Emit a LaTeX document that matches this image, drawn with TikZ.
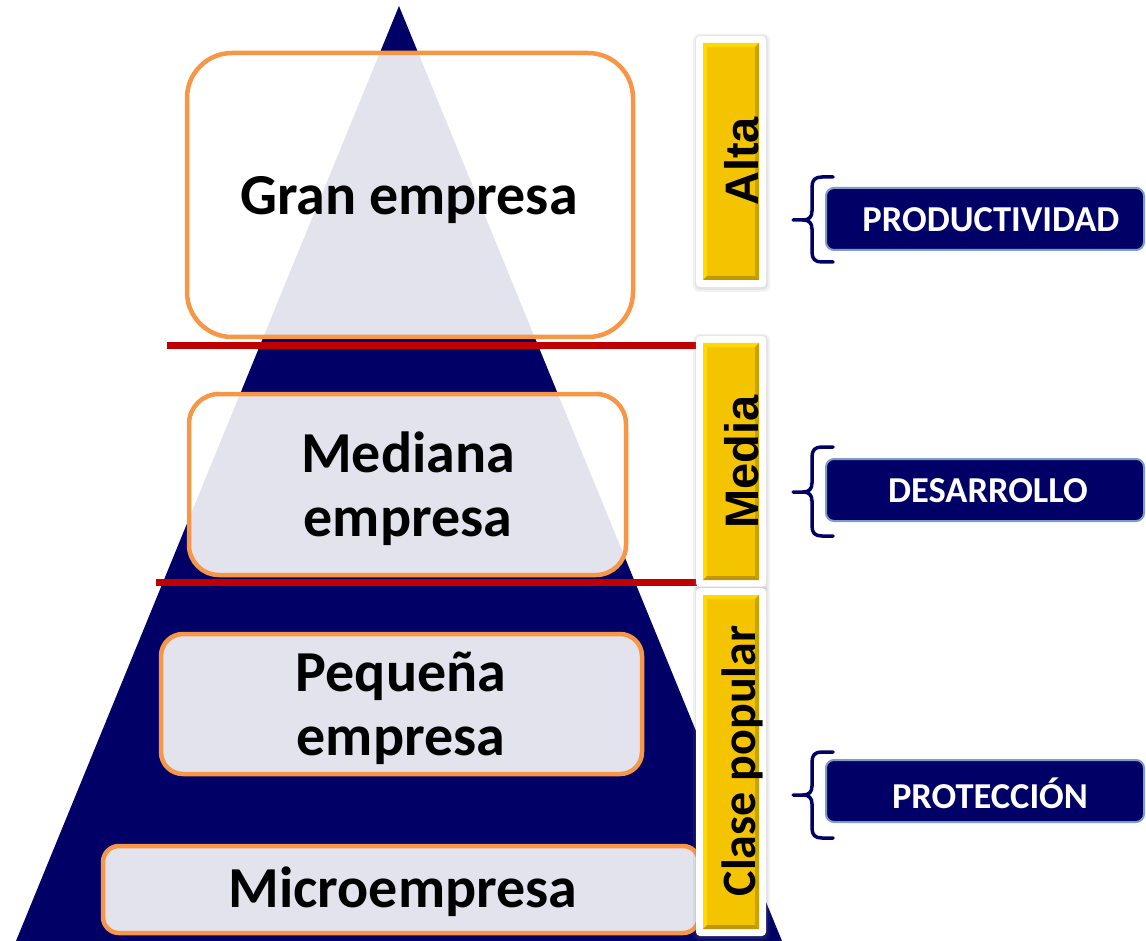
\documentclass[tikz,border=0pt]{standalone}
\usepackage{fontspec}
\setmainfont{Carlito}
\newfontfamily\arialf{Liberation Sans}
\definecolor{navy}{HTML}{000066}
\definecolor{orng}{HTML}{F79646}
\definecolor{redl}{HTML}{C00000}
\definecolor{ylw}{HTML}{F5C400}
\definecolor{ylwlt}{HTML}{FFD900}
\definecolor{ylwdk}{HTML}{C9A200}
\definecolor{ylwdkb}{HTML}{BF9800}
\definecolor{bord}{HTML}{7D9DC4}
\newcommand\ybar[4]{%
  \fill[gray,opacity=.10,rounded corners=6pt] ({#1-10},{#2-9}) rectangle ({#3+11},{#4+12});
  \fill[gray,opacity=.12,rounded corners=5pt] ({#1-8},{#2-8}) rectangle ({#3+9},{#4+10});
  \fill[white,rounded corners=4pt] ({#1-7},{#2-7}) rectangle ({#3+7},{#4+7});
  \fill[ylw] (#1,#2) rectangle (#3,#4);
  \fill[ylwlt] (#1,#2) -- (#3,#2) -- ({#3-4},{#2+4}) -- ({#1+4},{#2+4}) -- cycle;
  \fill[ylwlt] (#1,#2) -- ({#1+4},{#2+4}) -- ({#1+4},{#4-4}) -- (#1,#4) -- cycle;
  \fill[ylwdk] (#3,#2) -- (#3,#4) -- ({#3-4},{#4-4}) -- ({#3-4},{#2+4}) -- cycle;
  \fill[ylwdkb] (#1,#4) -- (#3,#4) -- ({#3-4},{#4-4}) -- ({#1+4},{#4-4}) -- cycle;}
\newcommand\mybrace[3]{%
  \draw[bracestyle] (833,#1) -- (822,#1) .. controls (815,#1) and (812,{#1+3}) .. (812,{#1+10})
    -- (812,{#3-9}) .. controls (812,{#3-3}) and (809,#3) .. (803,#3) -- (793,#3);
  \draw[bracestyle] (803,#3) .. controls (809,#3) and (812,{#3+3}) .. (812,{#3+9})
    -- (812,{#2-10}) .. controls (812,{#2-3}) and (815,#2) .. (822,#2) -- (833,#2);}
\tikzset{
  ebox/.style={draw=orng, line width=4.5pt, fill=white, fill opacity=0.89, inner sep=0pt},
  etext/.style={font=\fontsize{58}{64}\selectfont\bfseries, align=center, inner sep=0pt, text=black},
  redline/.style={draw=redl, line width=7pt},
  barlabel/.style={rotate=90, inner sep=0pt, text=black},
  nbox/.style={fill=navy, draw=bord, line width=2pt, rounded corners=8pt,
    minimum width=318pt, minimum height=62pt, inner sep=0pt},
  ntext/.style={text=white, font=\fontsize{36.5}{40}\selectfont\bfseries, inner sep=0pt}
}
\tikzset{bracestyle/.style={draw=navy, line width=3.5pt, line cap=round, line join=round}}
\begin{document}
\begin{tikzpicture}[x=1pt,y=-1pt]
\useasboundingbox (0,0) rectangle (1146,941);
% pyramid
\fill[navy] (399,6) -- (782,941) -- (16,941) -- cycle;
% boxes
\node[ebox, minimum width=446pt, minimum height=284pt, rounded corners=45pt] (gran) at (410,195) {};
\node[ebox, minimum width=437pt, minimum height=181pt, rounded corners=30pt] (mediana) at (407.5,484.5) {};
\node[ebox, minimum width=481pt, minimum height=140pt, rounded corners=22pt] (pequena) at (401.5,704) {};
\node[ebox, minimum width=596pt, minimum height=87pt, rounded corners=16pt] (micro) at (401,889.5) {};
\node[etext] (granT) at (409,200) {Gran empresa};
\node[etext] (medianaT) at (408,489) {Mediana\\empresa};
\node[etext] (pequenaT) at (401,708) {Pequeña\\empresa};
\node[etext] (microT) at (403,892) {Microempresa};
% red lines
\coordinate (r1a) at (167,345.5); \coordinate (r1b) at (697,345.5);
\coordinate (r2a) at (156,582); \coordinate (r2b) at (697,582);
\draw[redline] (r1a) -- (r1b);
\draw[redline] (r2a) -- (r2b);
% yellow bars
\ybar{703}{43}{759}{280}
\ybar{703}{343}{759}{580}
\ybar{703}{595}{759}{929}
\node[barlabel, font=\arialf\fontsize{47}{50}\selectfont\bfseries] (alta) at (742,161.5) {Alta};
\node[barlabel, font=\arialf\fontsize{47}{50}\selectfont\bfseries] (media) at (742,462) {Media};
\node[barlabel, font=\fontsize{48}{50}\selectfont\bfseries] (clase) at (742.5,761) {Clase popular};
% braces and right boxes
\mybrace{177}{262}{220}
\mybrace{447}{536}{492}
\mybrace{752}{838}{795}
\node[nbox] (prod) at (985,219) {};
\node[nbox] (des) at (985,490) {};
\node[nbox] (prot) at (985,791) {};
\node[ntext] (prodT) at (991,220) {PRODUCTIVIDAD};
\node[ntext] (desT) at (988,491) {DESARROLLO};
\node[ntext] (protT) at (990,793) {PROTECCIÓN};
\end{tikzpicture}
\end{document}
